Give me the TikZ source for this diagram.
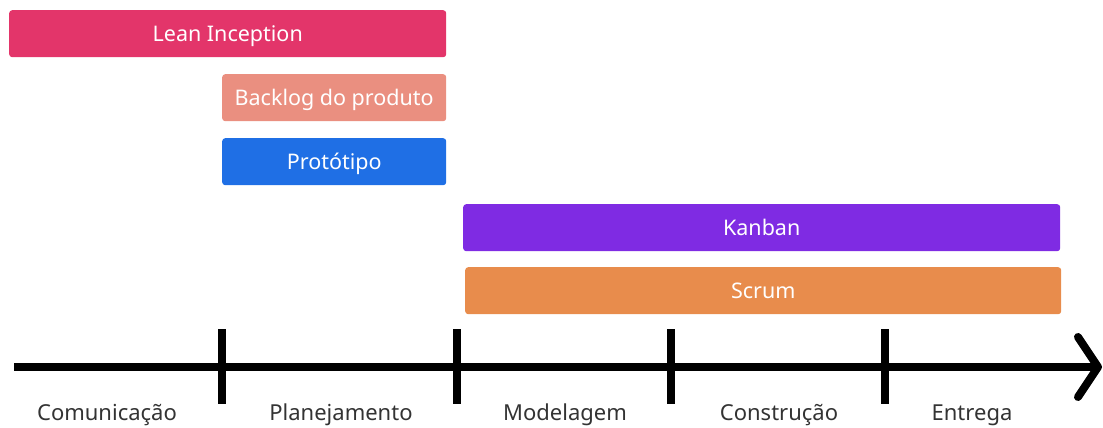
\documentclass[tikz,border=0pt]{standalone}
\usepackage{fontspec}
\setmainfont{Noto Sans}
\definecolor{leanc}{HTML}{E3356A}
\definecolor{backc}{HTML}{EA8F80}
\definecolor{protc}{HTML}{1F6FE5}
\definecolor{kanc}{HTML}{7F2BE3}
\definecolor{scrc}{HTML}{E88C4C}
\definecolor{labc}{HTML}{333333}
\tikzset{
  bar/.style={anchor=north west, rounded corners=3pt, minimum height=47pt,
    inner sep=0pt, text height=15.5pt, text depth=0pt, text=white,
    font=\fontsize{21.5}{24}\selectfont},
  axisline/.style={line width=8pt, black},
  tick/.style={line width=8pt, black},
  phase/.style={text=labc, font=\fontsize{22}{24}\selectfont, inner sep=0pt, anchor=base}
}
\begin{document}
\begin{tikzpicture}[x=1pt,y=-1pt]
\useasboundingbox (0,0) rectangle (1103,428);
% activity bars
\node[bar, fill=leanc, minimum width=437pt] (lean) at (9,10) {Lean Inception};
\node[bar, fill=backc, minimum width=224pt] (back) at (222,74) {Backlog do produto};
\node[bar, fill=protc, minimum width=224pt] (prot) at (222,138) {Protótipo};
\node[bar, fill=kanc, minimum width=597pt] (kan) at (463,204) {Kanban};
\node[bar, fill=scrc, minimum width=596pt] (scr) at (465,267) {Scrum};
% time axis
\coordinate (start) at (14,367);
\coordinate (tip) at (1098,367);
\coordinate (armA) at (1078,337);
\coordinate (armB) at (1078,397);
\draw[axisline] (start) -- (tip);
\draw[axisline, line cap=round, line join=round] (armA) -- (tip) -- (armB);
% phase boundaries
\foreach \n/\x in {t1/222,t2/457,t3/671,t4/885}{
  \coordinate (\n a) at (\x,329);
  \coordinate (\n b) at (\x,404);
  \draw[tick] (\n a) -- (\n b);
}
% phase names
\node[phase] (p1) at (107,420) {Comunicação};
\node[phase] (p2) at (341,420) {Planejamento};
\node[phase] (p3) at (565,420) {Modelagem};
\node[phase] (p4) at (779,420) {Construção};
\node[phase] (p5) at (972,420) {Entrega};
\end{tikzpicture}
\end{document}
